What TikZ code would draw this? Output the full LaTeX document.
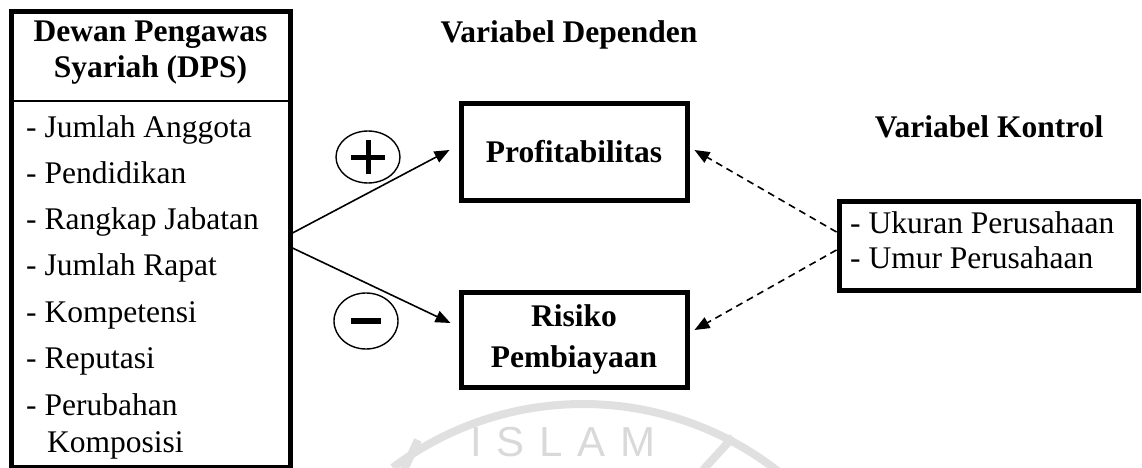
\documentclass[tikz,border=0pt]{standalone}
\usepackage{fontspec}
\setmainfont{Liberation Serif}
\newfontfamily\wmfont[LetterSpace=35]{Liberation Sans}
\usetikzlibrary{arrows.meta,shapes.geometric}
\tikzset{
  txt/.style={font=\fontsize{31.5}{37}\selectfont, inner sep=0pt},
  btxt/.style={font=\fontsize{31.5}{41}\selectfont\bfseries, inner sep=0pt, align=center},
  thickbox/.style={draw, line width=5pt, rectangle, inner sep=0pt},
  conn/.style={line width=1.6pt, -{Triangle[length=15pt,width=12pt]}},
  dconn/.style={line width=1.6pt, dash pattern=on 7pt off 5pt, -{Triangle[length=15pt,width=12pt]}},
  signcirc/.style={draw, ellipse, line width=1.4pt, inner sep=0pt},
  wm/.style={draw=black!12, line width=8pt}
}
\begin{document}
\begin{tikzpicture}[x=1pt,y=-1pt]
\useasboundingbox (0,0) rectangle (1142,468);
% watermark
\coordinate (wmc) at (583,720);
\draw[wm] (wmc) ++(-127:316) arc[start angle=-127, end angle=-48, radius=316];
\draw[wm] (418,440) -- (404,470);
\draw[wm] (733,437) -- (703,470);
\node[font=\wmfont\fontsize{42}{42}\selectfont, text=black!15, inner sep=0pt] (wmtext) at (563,442) {ISLAM};
% left box
\node[thickbox, minimum width=279pt, minimum height=455pt] (dps) at (150.5,239.5) {};
\coordinate (divl) at (11,101);
\coordinate (divr) at (290,101);
\draw[line width=2.5pt] (divl) -- (divr);
\node[btxt, anchor=base] (h1) at (150.5,42) {Dewan Pengawas};
\node[btxt, anchor=base] (h2) at (150.5,78) {Syariah (DPS)};
\node[txt, anchor=base west] (i1) at (26,137) {- Jumlah Anggota};
\node[txt, anchor=base west] (i2) at (26,183) {- Pendidikan};
\node[txt, anchor=base west] (i3) at (26,229) {- Rangkap Jabatan};
\node[txt, anchor=base west] (i4) at (26,275) {- Jumlah Rapat};
\node[txt, anchor=base west] (i5) at (26,322) {- Kompetensi};
\node[txt, anchor=base west] (i6) at (26,368) {- Reputasi};
\node[txt, anchor=base west] (i7) at (26,415) {- Perubahan};
\node[txt, anchor=base west] (i8) at (47,452) {Komposisi};
% titles
\node[btxt, anchor=base] (tdep) at (569,43) {Variabel Dependen};
\node[btxt, anchor=base] (tkon) at (989,137) {Variabel Kontrol};
% dependent boxes
\node[thickbox, minimum width=226pt, minimum height=96pt, btxt] (prof) at (574,152) {Profitabilitas};
\node[thickbox, minimum width=226pt, minimum height=95pt, btxt] (risk) at (574,339.5) {Risiko\\Pembiayaan};
% control box
\node[thickbox, minimum width=299pt, minimum height=89pt] (ctrl) at (988.5,245.5) {};
\node[txt, anchor=base west] (c1) at (850,233) {- Ukuran Perusahaan};
\node[txt, anchor=base west] (c2) at (850,268) {- Umur Perusahaan};
% signs
\node[signcirc, minimum width=64pt, minimum height=52pt] (plus) at (368,157) {};
\draw[line width=5pt] ([xshift=-17pt]plus.center) -- ([xshift=17pt]plus.center);
\draw[line width=5pt] ([yshift=-17pt]plus.center) -- ([yshift=17pt]plus.center);
\node[signcirc, minimum width=64pt, minimum height=56pt] (minus) at (366,321) {};
\draw[line width=6pt] ([xshift=-15pt]minus.center) -- ([xshift=15pt]minus.center);
% connectors
\draw[conn] ([yshift=6.5pt]dps.east) -- ([xshift=-9pt,yshift=2pt]prof.west);
\draw[conn] ([yshift=-8.5pt]dps.east) -- ([xshift=-8pt,yshift=16.5pt]risk.west);
\draw[dconn] ([yshift=13.5pt]ctrl.west) -- ([xshift=5pt,yshift=2pt]prof.east);
\draw[dconn] ([yshift=-4.5pt]ctrl.west) -- ([xshift=5pt,yshift=9.5pt]risk.east);
\end{tikzpicture}
\end{document}
